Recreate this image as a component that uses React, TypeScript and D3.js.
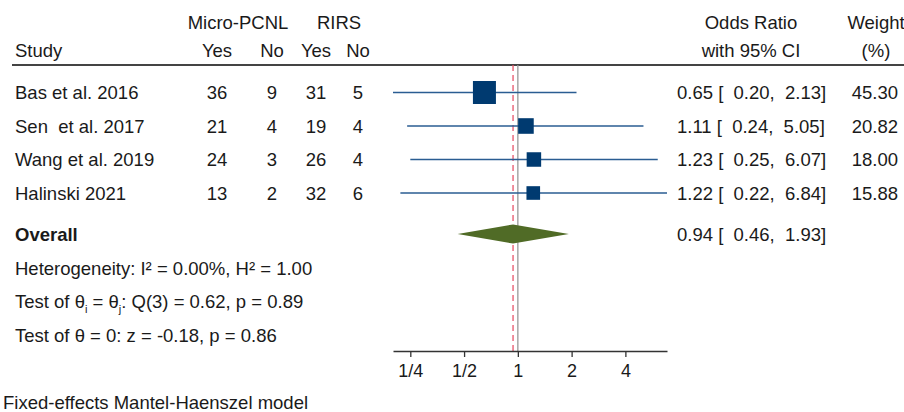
import React, { useEffect, useRef } from 'react';
import * as d3 from 'd3';

const studies = ['Bas et al. 2016', 'Sen  et al. 2017', 'Wang et al. 2019', 'Halinski 2021'];
const microYes = [36, 21, 24, 13];
const microNo = [9, 4, 3, 2];
const rirsYes = [31, 19, 26, 32];
const rirsNo = [5, 4, 4, 6];
const oddsRatio = [0.65, 1.11, 1.23, 1.22];
const ciLow = [0.2, 0.24, 0.25, 0.22];
const ciHigh = [2.13, 5.05, 6.07, 6.84];
const weights = [45.3, 20.82, 18.0, 15.88];
const overall = { or: 0.94, lo: 0.46, hi: 1.93 };
const tickValues = [0.25, 0.5, 1, 2, 4];
const tickLabels = ['1/4', '1/2', '1', '2', '4'];

const W = 904;
const H = 412;

function App() {
  const ref = useRef<SVGSVGElement>(null);

  useEffect(() => {
    const svg = d3.select(ref.current);
    svg.selectAll('*').remove();

    const font = '"Liberation Sans", Arial, Helvetica, sans-serif';
    const fs = 18.5;
    const ink = '#1a1a1a';
    const f2 = d3.format('.2f');

    const rowY = d3.scaleLinear().domain([0, 1]).range([92.5, 126]);
    const overallY = 234;
    const lineTop = 65;
    const axisY = 351;

    const x = d3.scaleLog().base(2)
      .domain([d3.min(ciLow) as number, d3.max(ciHigh) as number])
      .range([393, 667]);
    const size = d3.scaleSqrt().domain([0, d3.max(weights) as number]).range([0, 23]);

    const g = svg.append('g')
      .style('font-family', font)
      .style('font-size', fs + 'px')
      .attr('fill', ink);

    const txt = (s: string, tx: number, ty: number, anchor = 'start') =>
      g.append('text')
        .attr('x', tx)
        .attr('y', ty + fs * 0.36)
        .attr('text-anchor', anchor)
        .attr('xml:space', 'preserve')
        .style('white-space', 'pre')
        .text(s);

    const ciText = (o: number, l: number, h: number) => `${f2(o)} [  ${f2(l)},  ${f2(h)}]`;

    // column positions
    const cols = [217, 272, 316, 358];

    // headers
    txt('Micro-PCNL', 238, 22.5, 'middle');
    txt('RIRS', 339, 22.5, 'middle');
    txt('Study', 15, 50);
    txt('Yes', cols[0], 50, 'middle');
    txt('No', cols[1], 50, 'middle');
    txt('Yes', cols[2], 50, 'middle');
    txt('No', cols[3], 50, 'middle');
    txt('Odds Ratio', 751, 22.5, 'middle');
    txt('with 95% CI', 751, 50, 'middle');
    txt('Weight', 876, 22.5, 'middle');
    txt('(%)', 876, 50, 'middle');

    g.append('line')
      .attr('x1', 12).attr('x2', W)
      .attr('y1', lineTop).attr('y2', lineTop)
      .attr('stroke', '#444').attr('stroke-width', 2);

    // reference lines
    g.append('line')
      .attr('x1', x(1)).attr('x2', x(1))
      .attr('y1', lineTop).attr('y2', axisY)
      .attr('stroke', '#999').attr('stroke-width', 1.3);
    g.append('line')
      .attr('x1', x(overall.or)).attr('x2', x(overall.or))
      .attr('y1', lineTop).attr('y2', axisY)
      .attr('stroke', '#e8556a').attr('stroke-width', 1.3)
      .attr('stroke-dasharray', '6,4');

    // study rows
    studies.forEach((s, i) => {
      const y = rowY(i);
      txt(s, 15, y);
      txt(String(microYes[i]), cols[0], y, 'middle');
      txt(String(microNo[i]), cols[1], y, 'middle');
      txt(String(rirsYes[i]), cols[2], y, 'middle');
      txt(String(rirsNo[i]), cols[3], y, 'middle');
      txt(ciText(oddsRatio[i], ciLow[i], ciHigh[i]), 677, y);
      txt(f2(weights[i]), 898, y, 'end');

      g.append('line')
        .attr('x1', x(ciLow[i])).attr('x2', x(ciHigh[i]))
        .attr('y1', y).attr('y2', y)
        .attr('stroke', '#2a5d92').attr('stroke-width', 1.6);
      const sz = size(weights[i]);
      g.append('rect')
        .attr('x', x(oddsRatio[i]) - sz / 2)
        .attr('y', y - sz / 2)
        .attr('width', sz).attr('height', sz)
        .attr('fill', '#003a70');
    });

    // overall
    g.append('text')
      .attr('x', 15).attr('y', overallY + fs * 0.36)
      .style('font-weight', 'bold')
      .text('Overall');
    txt(ciText(overall.or, overall.lo, overall.hi), 677, overallY);
    const dh = 9.5;
    g.append('path')
      .attr('d', `M${x(overall.lo)},${overallY}L${x(overall.or)},${overallY - dh}L${x(overall.hi)},${overallY}L${x(overall.or)},${overallY + dh}Z`)
      .attr('fill', '#506b26');

    txt('Heterogeneity: I² = 0.00%, H² = 1.00', 15, 268);

    const t2 = txt('', 15, 301.5);
    t2.append('tspan').text('Test of θ');
    t2.append('tspan').attr('dy', 5).style('font-size', '11px').text('i');
    t2.append('tspan').attr('dy', -5).text(' = θ');
    t2.append('tspan').attr('dy', 5).style('font-size', '11px').text('j');
    t2.append('tspan').attr('dy', -5).text(': Q(3) = 0.62, p = 0.89');

    txt('Test of θ = 0: z = -0.18, p = 0.86', 15, 335);
    txt('Fixed-effects Mantel-Haenszel model', 3, 402);

    // axis
    const axis = d3.axisBottom(x)
      .tickValues(tickValues)
      .tickFormat((d, i) => tickLabels[i])
      .tickSize(6)
      .tickSizeOuter(0);
    const ax = svg.append('g')
      .attr('transform', `translate(0,${axisY})`)
      .call(axis);
    ax.select('.domain').attr('stroke', '#333').attr('stroke-width', 1.5);
    ax.selectAll('.tick line').attr('stroke', '#333').attr('stroke-width', 1.3);
    ax.selectAll('.tick text')
      .attr('fill', ink)
      .attr('y', 13)
      .style('font-family', font)
      .style('font-size', '18px');
  }, []);

  return (
    <svg ref={ref} width={W} height={H}
      style={{ position: 'absolute', left: 0, top: 0, background: '#fff' }} />
  );
}

export default App;
